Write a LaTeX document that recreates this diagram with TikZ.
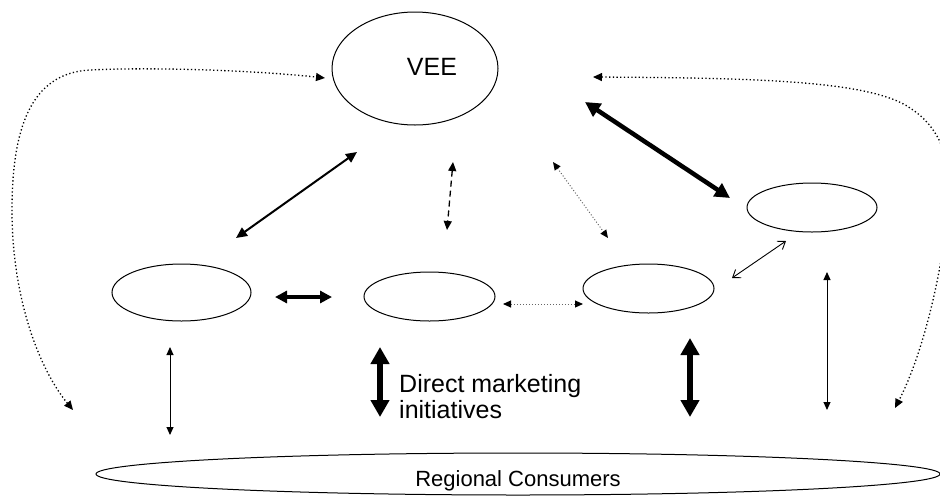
\documentclass[tikz,border=0pt]{standalone}
\usepackage{fontspec}
\setmainfont{Liberation Sans}
\usetikzlibrary{arrows.meta,shapes.geometric}

\begin{document}
\begin{tikzpicture}[x=1pt,y=-1pt,
  oval/.style={draw, ellipse, line width=1pt, inner sep=0pt},
  bigtxt/.style={font=\fontsize{25}{26}\selectfont},
  thinlink/.style={line width=1pt, {Triangle[length=8pt,width=7pt]}-{Triangle[length=8pt,width=7pt]}},
  midlink/.style={line width=2pt, {Triangle[length=11pt,width=10pt]}-{Triangle[length=11pt,width=10pt]}},
  heavylink/.style={line width=4.5pt, {Triangle[length=15pt,width=15pt]}-{Triangle[length=15pt,width=15pt]}},
  barlink/.style={line width=4pt, {Triangle[length=12pt,width=12pt]}-{Triangle[length=12pt,width=12pt]}},
  fatlink/.style={line width=6pt, {Triangle[length=17pt,width=18pt]}-{Triangle[length=17pt,width=18pt]}},
  dashlink/.style={line width=1.3pt, dash pattern=on 6pt off 4pt, {Triangle[length=9pt,width=8pt]}-{Triangle[length=9pt,width=8pt]}},
  finedots/.style={line width=1pt, black!60, dash pattern=on 1pt off 2pt, {Triangle[length=8pt,width=7pt,fill=black,color=black]}-{Triangle[length=8pt,width=7pt,fill=black,color=black]}},
  loopdots/.style={line width=1.3pt, dash pattern=on 1.3pt off 2.4pt, {Triangle[length=9pt,width=8pt]}-{Triangle[length=9pt,width=8pt]}},
  openlink/.style={line width=0.9pt, {Straight Barb[length=7pt,width=10pt]}-{Straight Barb[length=7pt,width=10pt]}}
]
\useasboundingbox (0,0) rectangle (940,496);
\clip (0,0) rectangle (940,496);

% ellipses
\node[oval, minimum width=166pt, minimum height=113pt,
      label={[bigtxt, xshift=17pt, yshift=2pt]center:VEE}] (vee) at (415,68.5) {};
\node[oval, minimum width=139pt, minimum height=57pt] (e1) at (181.5,292.5) {};
\node[oval, minimum width=131pt, minimum height=49pt] (e2) at (429.5,296.5) {};
\node[oval, minimum width=131pt, minimum height=49pt] (e3) at (648.5,288.5) {};
\node[oval, minimum width=130pt, minimum height=49pt] (e4) at (812,207.5) {};
\node[oval, minimum width=844pt, minimum height=42pt,
      label={[font=\fontsize{22}{24}\selectfont, yshift=-7pt]center:Regional Consumers}] (rc) at (518,474) {};

% caption beside the fat arrow
\node[bigtxt, align=left, anchor=west, inner sep=0pt] (dm) at (399,397) {Direct marketing\\initiatives};

% arrow end points
\coordinate (a1) at (357,152);  \coordinate (a2) at (236,238);
\coordinate (b1) at (453,162);  \coordinate (b2) at (447,230);
\coordinate (c1) at (553,162);  \coordinate (c2) at (608,238);
\coordinate (d1) at (585,102);  \coordinate (d2) at (730,198);
\coordinate (f1) at (275,297);  \coordinate (f2) at (332,297);
\coordinate (g1) at (503,304);  \coordinate (g2) at (583,304);
\coordinate (h1) at (732,278);  \coordinate (h2) at (786,241);
\coordinate (i1) at (170,347);  \coordinate (i2) at (170,435);
\coordinate (j1) at (827,272);  \coordinate (j2) at (827,410);
\coordinate (k1) at (380,347);  \coordinate (k2) at (380,417);
\coordinate (m1) at (690,338);  \coordinate (m2) at (690,417);
\coordinate (lA) at (73,410);   \coordinate (lB) at (325,78);
\coordinate (rA) at (895,408);  \coordinate (rB) at (593,77);

% connectors
\draw[midlink] (a1) -- (a2);
\draw[dashlink] (b1) -- (b2);
\draw[finedots] (c1) -- (c2);
\draw[heavylink] (d1) -- (d2);
\draw[barlink] (f1) -- (f2);
\draw[finedots] (g1) -- (g2);
\draw[openlink] (h1) -- (h2);
\draw[thinlink] (i1) -- (i2);
\draw[thinlink] (j1) -- (j2);
\draw[fatlink] (k1) -- (k2);
\draw[fatlink] (m1) -- (m2);

% dotted loops around the sides
\draw[loopdots] (lA) .. controls (40,370) and (12,300) .. (12,210)
  .. controls (12,130) and (30,73) .. (90,70)
  .. controls (150,67) and (250,70) .. (lB);
\draw[loopdots] (rB) .. controls (750,78) and (870,80) .. (910,108)
  .. controls (945,130) and (952,170) .. (948,200)
  .. controls (945,260) and (925,350) .. (rA);
\end{tikzpicture}
\end{document}
